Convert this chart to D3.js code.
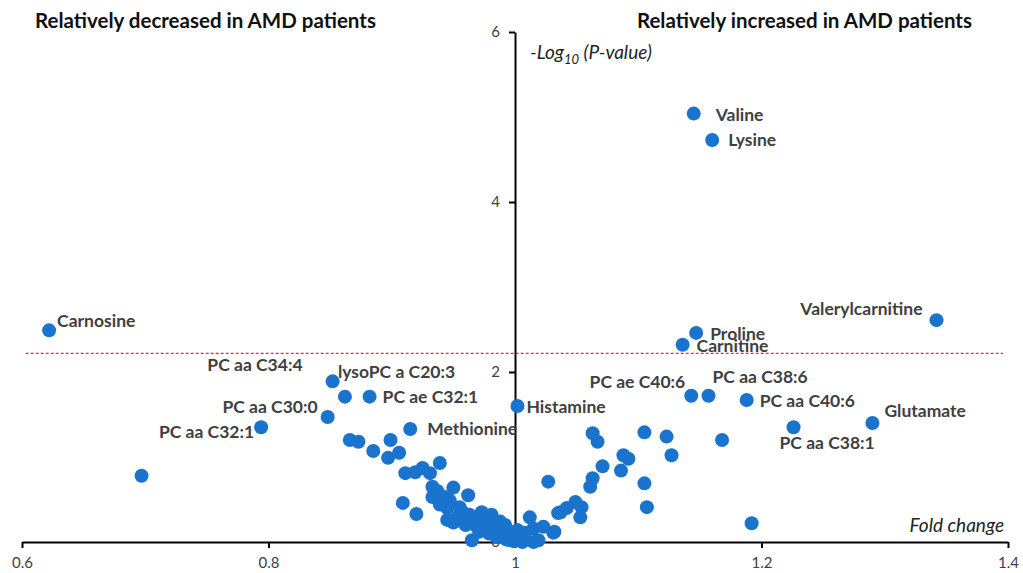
<!DOCTYPE html>
<html>
<head>
<meta charset="utf-8">
<script src="https://cdn.jsdelivr.net/npm/d3@7"></script>
<style>
	body { margin: 0; background: #fff; }
	text { font-family: Lato, "Open Sans", sans-serif; }
</style>
</head>
<body>
<svg id="mySVG" width="1023" height="573"></svg>
<script>

// labelled metabolites: fold change and -log10(p)
var labelNames = ['Carnosine', 'PC aa C34:4', 'lysoPC a C20:3', 'PC ae C32:1', 'PC aa C30:0',
	'PC aa C32:1', 'Methionine', 'Histamine', 'Valine', 'Lysine', 'Valerylcarnitine',
	'Proline', 'Carnitine', 'PC ae C40:6', 'PC aa C38:6', 'PC aa C40:6', 'Glutamate', 'PC aa C38:1'];
var labelFold = [0.622, 0.852, 0.862, 0.882, 0.848, 0.794, 0.915, 1.002, 1.145, 1.160, 1.342,
	1.147, 1.136, 1.143, 1.157, 1.188, 1.290, 1.226];
var labelLogP = [2.49, 1.89, 1.71, 1.71, 1.47, 1.35, 1.33, 1.60, 5.04, 4.73, 2.61,
	2.46, 2.32, 1.72, 1.72, 1.67, 1.40, 1.35];

// other metabolites (no label)
var otherFold = [0.697, 0.866, 0.873, 0.885, 0.899, 0.897, 0.906, 0.911, 0.919, 0.925, 0.931,
	0.939, 0.933, 0.909, 0.920, 0.942, 0.945, 0.933, 0.950, 0.962, 0.939, 0.947, 0.955,
	0.950, 0.963, 0.973, 0.981, 0.977, 0.988, 0.965, 0.990, 0.996, 1.002, 0.969, 0.958,
	0.943, 0.953, 0.937, 0.945, 0.957, 0.960, 0.967, 0.971, 0.975, 0.979, 0.983, 0.985,
	0.992, 0.993, 0.998, 0.999, 1.004,
	1.027, 1.063, 1.067, 1.105, 1.123, 1.127, 1.168, 1.088, 1.092, 1.071, 1.086, 1.063,
	1.061, 1.105, 1.107, 1.192, 1.049, 1.054, 1.053, 1.042, 1.035, 1.032, 1.012, 1.023,
	1.015, 1.019, 1.008, 1.002, 0.994, 0.996, 1.006, 1.015, 1.037, 1.031];
var otherLogP = [0.78, 1.20, 1.18, 1.07, 1.20, 0.99, 1.05, 0.81, 0.82, 0.87, 0.81,
	0.93, 0.65, 0.46, 0.33, 0.49, 0.26, 0.53, 0.64, 0.55, 0.44, 0.49, 0.41,
	0.23, 0.32, 0.35, 0.32, 0.23, 0.24, 0.02, 0.14, 0.06, 0.02, 0.18, 0.26,
	0.53, 0.29, 0.60, 0.40, 0.36, 0.20, 0.27, 0.12, 0.29, 0.10, 0.18, 0.06,
	0.20, 0.03, 0.11, 0.01, 0.07,
	0.71, 1.28, 1.18, 1.29, 1.24, 1.02, 1.20, 1.02, 0.98, 0.89, 0.84, 0.75,
	0.65, 0.69, 0.41, 0.22, 0.47, 0.41, 0.29, 0.40, 0.34, 0.12, 0.29, 0.18,
	0.16, 0.02, 0.11, 0.14, 0.11, 0.02, 0.00, 0.00, 0.35, 0.11];

var xTicks = [0.6, 0.8, 1, 1.2, 1.4];
var yTicks = [0, 2, 4, 6];
var threshold = 2.22;   // significance cut-off line

// where each label sits relative to its dot: [dx, dy, anchor]
var labelOffsets = {
	'Carnosine': [8, -3, 'start'],
	'PC aa C34:4': [-30, -10, 'end'],
	'lysoPC a C20:3': [-7, -19, 'start'],
	'PC ae C32:1': [13, 6, 'start'],
	'PC aa C30:0': [-10, -4, 'end'],
	'PC aa C32:1': [-7, 11, 'end'],
	'Methionine': [17, 6, 'start'],
	'Histamine': [9, 7, 'start'],
	'Valine': [22, 7, 'start'],
	'Lysine': [16, 6, 'start'],
	'Valerylcarnitine': [-14, -5, 'end'],
	'Proline': [14, 7, 'start'],
	'Carnitine': [14, 7, 'start'],
	'PC ae C40:6': [-6, -8, 'end'],
	'PC aa C38:6': [4, -13, 'start'],
	'PC aa C40:6': [13, 7, 'start'],
	'Glutamate': [12, -6, 'start'],
	'PC aa C38:1': [-14, 22, 'start']
};

var plot = {left: 22, right: 1008, top: 32, bottom: 542};
var radius = 7;
var dotColor = '#1a73cc';
var labelColor = '#404040';

var svg = d3.select('#mySVG');

var x = d3.scaleLinear().domain([0.6, 1.4]).range([plot.left, plot.right]);
var y = d3.scaleLinear().domain([0, 6]).range([plot.bottom, plot.top]);

// x axis along the bottom
var xAxis = svg.append('g')
	.attr('transform', 'translate(0,' + plot.bottom + ')')
	.call(d3.axisBottom(x).tickValues(xTicks).tickFormat(d3.format('')).tickSize(6).tickSizeOuter(0).tickPadding(9));

// y axis through fold change = 1
var yAxis = svg.append('g')
	.attr('transform', 'translate(' + x(1) + ',0)')
	.call(d3.axisLeft(y).tickValues(yTicks).tickFormat(d3.format('')).tickSize(6).tickSizeOuter(0).tickPadding(9));

[xAxis, yAxis].forEach(function(g) {
	g.select('.domain').attr('stroke', '#000').attr('stroke-width', 2);
	g.selectAll('.tick line').attr('stroke', '#000').attr('stroke-width', 2);
	g.selectAll('.tick text').attr('fill', labelColor).style('font-size', '15px');
});

// significance line
svg.append('line')
	.attr('x1', x(0.603)).attr('x2', x(1.396))
	.attr('y1', y(threshold)).attr('y2', y(threshold))
	.attr('stroke', '#e00000')
	.attr('stroke-width', 1)
	.attr('stroke-dasharray', '3,2');

var others = otherFold.map(function(f, i) { return {fold: f, logp: otherLogP[i]}; });
var named = labelNames.map(function(n, i) { return {name: n, fold: labelFold[i], logp: labelLogP[i]}; });

svg.append('g').selectAll('circle')
	.data(others.concat(named))
	.enter().append('circle')
	.attr('cx', d => x(d.fold))
	.attr('cy', d => y(d.logp))
	.attr('r', radius)
	.attr('fill', dotColor);

svg.append('g').selectAll('text')
	.data(named)
	.enter().append('text')
	.attr('x', d => x(d.fold) + labelOffsets[d.name][0])
	.attr('y', d => y(d.logp) + labelOffsets[d.name][1])
	.attr('text-anchor', d => labelOffsets[d.name][2])
	.attr('fill', labelColor)
	.style('font-size', '17.5px')
	.style('font-weight', 'bold')
	.text(d => d.name);

// headings
svg.append('text')
	.attr('x', 35).attr('y', 28)
	.style('font-size', '20.5px').style('font-weight', 'bold')
	.attr('fill', '#111')
	.text('Relatively decreased in AMD patients');

svg.append('text')
	.attr('x', 972).attr('y', 28)
	.attr('text-anchor', 'end')
	.style('font-size', '20.5px').style('font-weight', 'bold')
	.attr('fill', '#111')
	.text('Relatively increased in AMD patients');

// axis titles
var yTitle = svg.append('text')
	.attr('x', 530).attr('y', 59)
	.attr('fill', '#222')
	.style('font-size', '19px').style('font-style', 'italic');
yTitle.append('tspan').text('-Log');
yTitle.append('tspan').attr('dy', 5).style('font-size', '13px').text('10');
yTitle.append('tspan').attr('dy', -5).text(' (P-value)');

svg.append('text')
	.attr('x', 1004).attr('y', 532)
	.attr('text-anchor', 'end')
	.attr('fill', '#222')
	.style('font-size', '19px').style('font-style', 'italic')
	.text('Fold change');

</script>
</body>
</html>
